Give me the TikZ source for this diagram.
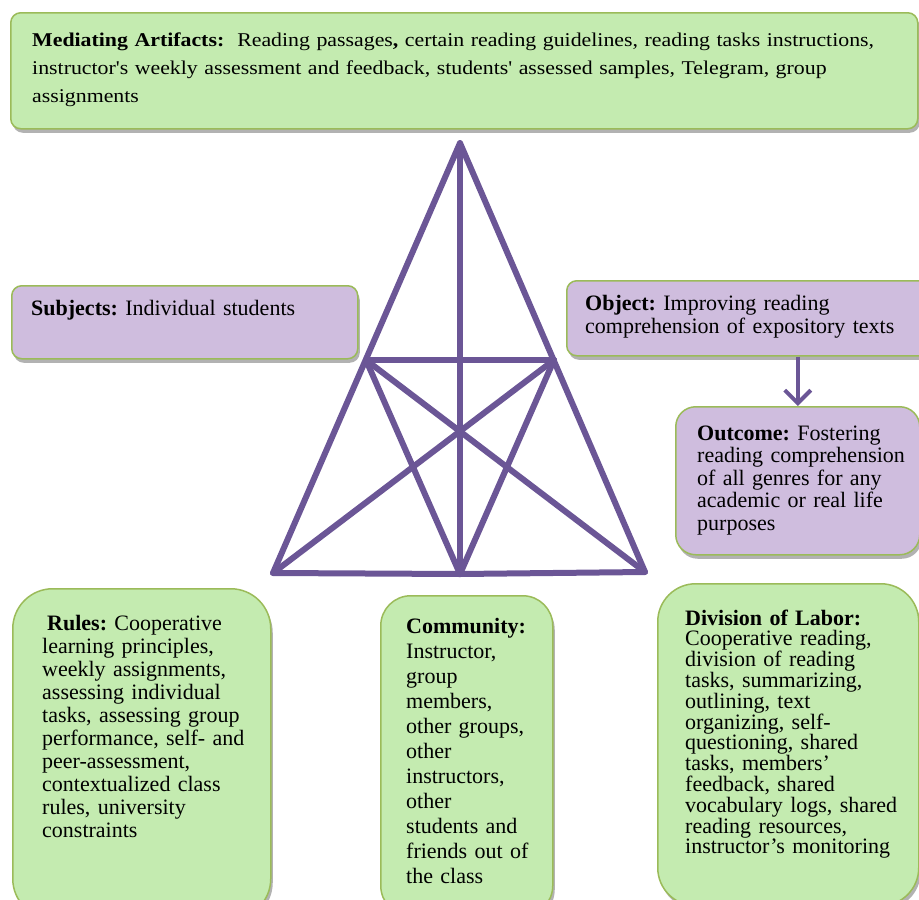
\documentclass[tikz,border=0pt]{standalone}
\usepackage{fontspec}
\setmainfont{Liberation Serif}
\newfontfamily\widefont[FakeStretch=1.12]{Liberation Serif}
\usetikzlibrary{shadows,arrows.meta}
\definecolor{greenfill}{RGB}{196,235,176}
\definecolor{lilacfill}{RGB}{207,189,222}
\definecolor{boxedge}{RGB}{155,187,89}
\definecolor{triline}{RGB}{107,86,150}
\frenchspacing
\begin{document}
\begin{tikzpicture}
    [x=1pt,y=-1pt,
     actbox/.style={draw=boxedge,line width=1.5pt,inner sep=0pt,anchor=north west,
       drop shadow={shadow xshift=2pt,shadow yshift=-4pt,fill=black,opacity=.3}},
     txt/.style={anchor=base west,inner sep=0pt,align=left,text width=#1,
       font=\fontsize{22}{23}\selectfont},
     edge/.style={line width=6pt,color=triline,line cap=round,line join=round}]
    \clip (0,0) rectangle (919,900);
    % triangle
    \coordinate (apex) at (460,143);
    \coordinate (lmid) at (366,360);
    \coordinate (rmid) at (554,360);
    \coordinate (bl) at (273,573);
    \coordinate (bmid) at (460,574);
    \coordinate (br) at (645,572);
    \draw [edge] (bl) -- (apex) -- (br) -- (bmid) -- cycle;
    \draw [edge] (apex) -- (bmid);
    \draw [edge] (lmid) -- (rmid);
    \draw [edge] (lmid) -- (bmid) -- (rmid);
    \draw [edge] (lmid) -- (br);
    \draw [edge] (rmid) -- (bl);
    % boxes
    \node (artbox) at (10,12) [actbox,fill=greenfill,rounded corners=10pt,minimum width=907pt,minimum height=116pt] {};
    \node (subjbox) at (11,285) [actbox,fill=lilacfill,rounded corners=10pt,minimum width=346pt,minimum height=73pt] {};
    \node (objbox) at (566,280) [actbox,fill=lilacfill,rounded corners=10pt,minimum width=365pt,minimum height=75pt] {};
    \node (outbox) at (675,406) [actbox,fill=lilacfill,rounded corners=20pt,minimum width=244pt,minimum height=148pt] {};
    \node (rulesbox) at (12,588) [actbox,fill=greenfill,rounded corners=40pt,minimum width=258pt,minimum height=330pt] {};
    \node (commbox) at (380,595) [actbox,fill=greenfill,rounded corners=30pt,minimum width=172pt,minimum height=320pt] {};
    \node (divbox) at (657,583) [actbox,fill=greenfill,rounded corners=38pt,minimum width=261pt,minimum height=322pt] {};
    \draw [-{Straight Barb[length=13pt,width=26pt,line width=4pt]},line width=4pt,triline] (outbox.north |- objbox.south) -- (outbox.north);
    % texts
    \node (artifacts) at (32,46) [txt=880pt,font=\widefont\fontsize{19.5}{28}\selectfont]
      {\textbf{Mediating Artifacts:}\ \ Reading passages\textbf{,} certain reading guidelines, reading tasks instructions,\\
       instructor's weekly assessment and feedback, students' assessed samples, Telegram, group\\
       assignments};
    \node (subjects) at (31,315) [txt=320pt] {\textbf{Subjects:} Individual students};
    \node (object) at (585,310) [txt=330pt]
      {\textbf{Object:} Improving reading\\ comprehension of expository texts};
    \node (outcome) at (697,440) [txt=230pt,font=\fontsize{22}{22.5}\selectfont]
      {\textbf{Outcome:} Fostering\\ reading comprehension\\ of all genres for any\\ academic or real life\\ purposes};
    \node (rules) at (42,630) [txt=240pt]
      {\hspace{5pt}\textbf{Rules:} Cooperative\\ learning principles,\\ weekly assignments,\\ assessing individual\\
       tasks, assessing group\\ performance, self- and\\ peer-assessment,\\ contextualized class\\ rules, university\\ constraints};
    \node (community) at (406,633) [txt=160pt,font=\fontsize{22}{25}\selectfont]
      {\textbf{Community:}\\ Instructor,\\ group\\ members,\\ other groups,\\ other\\ instructors,\\ other\\ students and\\
       friends out of\\ the class};
    \node (division) at (685,625) [txt=240pt,font=\fontsize{22}{20.8}\selectfont]
      {\textbf{Division of Labor:}\\ Cooperative reading,\\ division of reading\\ tasks, summarizing,\\ outlining, text\\
       organizing, self-\\ questioning, shared\\ tasks, members'\\ feedback, shared\\ vocabulary logs, shared\\
       reading resources,\\ instructor's monitoring};
\end{tikzpicture}
\end{document}
